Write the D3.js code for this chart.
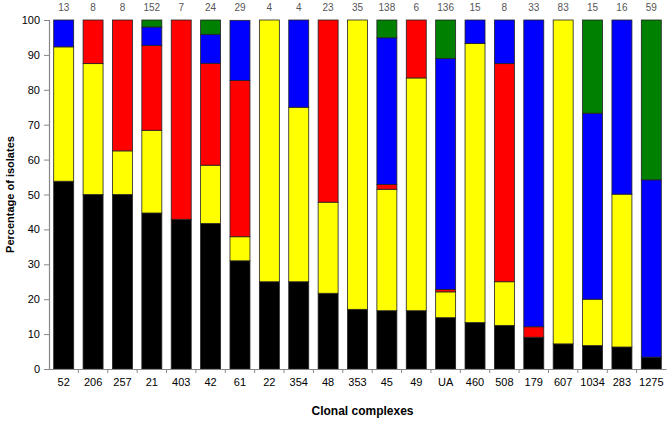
<!DOCTYPE html>
<html>
<head>
<meta charset="utf-8">
<script src="https://cdn.jsdelivr.net/npm/d3@7"></script>
<style>
  body { margin: 0; background: #fff; }
  svg { font-family: "Liberation Sans", Arial, sans-serif; }
</style>
</head>
<body>
<div id="chart"></div>
<script>
// clonal complexes and isolate counts shown above bars
var categories = ["52", "206", "257", "21", "403", "42", "61", "22", "354", "48", "353", "45", "49", "UA", "460", "508", "179", "607", "1034", "283", "1275"];
var counts = [13, 8, 8, 152, 7, 24, 29, 4, 4, 23, 35, 138, 6, 136, 15, 8, 33, 83, 15, 16, 59];

// percentage of isolates per group (bottom to top)
var black  = [53.8, 50, 50, 44.7, 42.9, 41.7, 31.0, 25, 25, 21.7, 17.1, 16.7, 16.7, 14.7, 13.3, 12.5, 9.1, 7.2, 6.7, 6.3, 3.4];
var yellow = [38.5, 37.5, 12.5, 23.7, 0, 16.7, 6.9, 75, 50, 26.1, 82.9, 34.8, 66.7, 7.4, 80.0, 12.5, 0, 92.8, 13.3, 43.8, 0];
var red    = [0, 12.5, 37.5, 24.3, 57.1, 29.2, 44.8, 0, 0, 52.2, 0, 1.4, 16.7, 0.7, 0, 62.5, 3.0, 0, 0, 0, 0];
var blue   = [7.7, 0, 0, 5.3, 0, 8.3, 17.2, 0, 25, 0, 0, 42.0, 0, 66.2, 6.7, 12.5, 87.9, 0, 53.3, 50, 50.8];
var green  = [0, 0, 0, 2.0, 0, 4.2, 0, 0, 0, 0, 0, 5.1, 0, 11.0, 0, 0, 0, 0, 26.7, 0, 45.8];
var yTicks = [0, 10, 20, 30, 40, 50, 60, 70, 80, 90, 100];

var keys = ["black", "yellow", "red", "blue", "green"];
var colors = {black: "#000000", yellow: "#ffff00", red: "#ff0000", blue: "#0000ff", green: "#008000"};

var rows = categories.map(function(c, i) {
  return {cat: c, n: counts[i], black: black[i], yellow: yellow[i], red: red[i], blue: blue[i], green: green[i]};
});

var W = 670, H = 422;
var margin = {top: 20, right: 4, bottom: 53, left: 49};
var width = W - margin.left - margin.right;
var height = H - margin.top - margin.bottom;

var svg = d3.select("#chart").append("svg").attr("width", W).attr("height", H);
var g = svg.append("g").attr("transform", "translate(" + margin.left + "," + margin.top + ")");

var x = d3.scaleBand().domain(categories).range([0, width]).paddingInner(0.32).paddingOuter(0.16);
var y = d3.scaleLinear().domain([0, 100]).range([height, 0]);

var stack = d3.stack().keys(keys);
var series = stack(rows);

g.selectAll("g.layer").data(series).enter().append("g")
  .attr("class", "layer")
  .attr("fill", function(d) { return colors[d.key]; })
  .selectAll("rect").data(function(d) { return d.filter(function(p) { return p[1] - p[0] > 0; }); })
  .enter().append("rect")
  .attr("x", function(d) { return x(d.data.cat); })
  .attr("width", x.bandwidth())
  .attr("y", function(d) { return y(Math.min(100, d[1])); })
  .attr("height", function(d) { return y(d[0]) - y(Math.min(100, d[1])); })
  .attr("stroke", "#222")
  .attr("stroke-width", 0.8);

// y axis
var yAxis = g.append("g").call(d3.axisLeft(y).tickValues(yTicks).tickSize(5).tickPadding(4));
yAxis.select(".domain").attr("stroke", "#888").attr("stroke-width", 1.2);
yAxis.selectAll(".tick line").attr("stroke", "#888");
yAxis.selectAll("text").attr("font-size", 11).attr("fill", "#000");

// x axis: ticks sit between categories
var xAxis = g.append("g").attr("transform", "translate(0," + height + ")")
  .call(d3.axisBottom(x).tickSize(0).tickPadding(9));
xAxis.select(".domain").attr("stroke", "#888").attr("stroke-width", 1.2);
xAxis.selectAll("text").attr("font-size", 11).attr("fill", "#000");
xAxis.selectAll("line.sep").data(categories.slice(1)).enter().append("line")
  .attr("class", "sep")
  .attr("x1", function(d) { return x(d) - x.step() * x.paddingInner() / 2; })
  .attr("x2", function(d) { return x(d) - x.step() * x.paddingInner() / 2; })
  .attr("y1", 0).attr("y2", 4)
  .attr("stroke", "#888");

// counts above bars
g.selectAll("text.count").data(rows).enter().append("text")
  .attr("class", "count")
  .attr("x", function(d) { return x(d.cat) + x.bandwidth() / 2; })
  .attr("y", -9)
  .attr("text-anchor", "middle")
  .attr("font-size", 10)
  .attr("fill", "#555")
  .text(function(d) { return d.n; });

// axis titles
svg.append("text")
  .attr("x", margin.left + width / 2 + 5)
  .attr("y", 415)
  .attr("text-anchor", "middle")
  .attr("font-size", 12)
  .attr("font-weight", "bold")
  .text("Clonal complexes");

svg.append("text")
  .attr("transform", "translate(14," + (margin.top + height / 2) + ") rotate(-90)")
  .attr("text-anchor", "middle")
  .attr("font-size", 11)
  .attr("font-weight", "bold")
  .text("Percentage of isolates");
</script>
</body>
</html>
